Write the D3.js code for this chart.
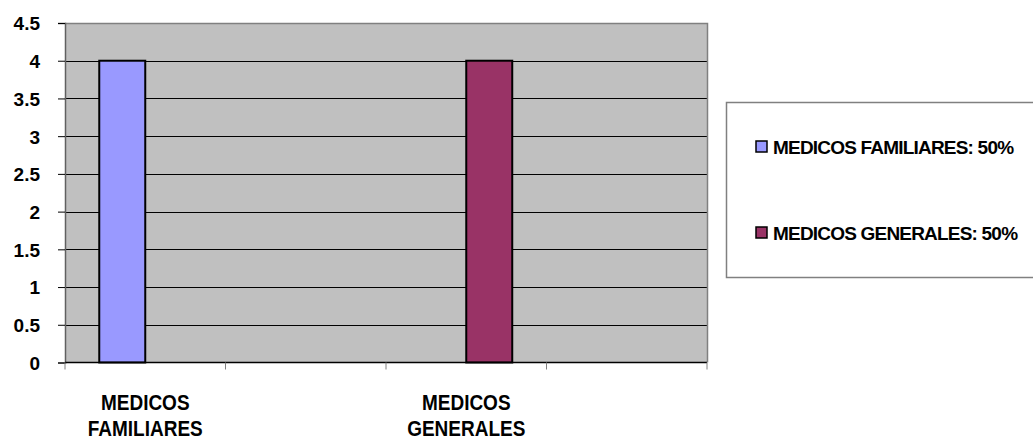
<!DOCTYPE html>
<html>
<head>
<meta charset="utf-8">
<script src="https://cdn.jsdelivr.net/npm/d3@7"></script>
<style>
  html, body { margin: 0; padding: 0; background: #fff; }
  svg { display: block; }
  svg text { font-family: "Liberation Sans", Arial, sans-serif; font-weight: 700; fill: #000; }
</style>
</head>
<body>
<svg id="chart" width="1033" height="439"></svg>
<script>
// Category slots along the x axis (two slots carry no label)
const categories = ["MEDICOS FAMILIARES", "", "MEDICOS GENERALES", ""];
const seriesNames = ["MEDICOS FAMILIARES: 50%", "MEDICOS GENERALES: 50%"];
const familiaresValues = [4, null, null, null];
const generalesValues = [null, null, 4, null];
const seriesColors = ["#9999FF", "#993366"];
const yTicks = [0, 0.5, 1, 1.5, 2, 2.5, 3, 3.5, 4, 4.5];

const seriesValues = [familiaresValues, generalesValues];

const svg = d3.select("#chart");
const plot = { left: 65, right: 707, top: 23, bottom: 362.5 };

const y = d3.scaleLinear().domain([0, 4.5]).range([plot.bottom, plot.top]);
const x = d3.scaleBand().domain(d3.range(categories.length)).range([plot.left, plot.right]).padding(0);
const xSeries = d3.scaleBand().domain(d3.range(seriesNames.length))
  .range([0, x.bandwidth()]).paddingInner(0).paddingOuter(0.745);

// Plot background
svg.append("rect")
  .attr("x", plot.left).attr("y", plot.top)
  .attr("width", plot.right - plot.left).attr("height", plot.bottom - plot.top)
  .attr("fill", "#C0C0C0");

// Horizontal gridlines
svg.append("g")
  .selectAll("line")
  .data(yTicks.filter(t => t > 0 && t < 4.5))
  .join("line")
  .attr("x1", plot.left).attr("x2", plot.right)
  .attr("y1", d => Math.round(y(d)) + 0.5).attr("y2", d => Math.round(y(d)) + 0.5)
  .attr("stroke", "#000").attr("stroke-width", 1);

// Top and right frame of the plot area
svg.append("path")
  .attr("d", `M${plot.left},${plot.top + 0.5}H${plot.right + 0.5}V${plot.bottom}`)
  .attr("fill", "none").attr("stroke", "#808080").attr("stroke-width", 1.5);

// Bars
seriesValues.forEach((vals, s) => {
  svg.append("g")
    .selectAll("rect")
    .data(vals.map((v, i) => ({ i, v })).filter(d => d.v != null))
    .join("rect")
    .attr("x", d => x(d.i) + xSeries(s))
    .attr("y", d => y(d.v))
    .attr("width", xSeries.bandwidth())
    .attr("height", d => y(0) - y(d.v))
    .attr("fill", seriesColors[s])
    .attr("stroke", "#000").attr("stroke-width", 2);
});

// Y axis
const yAxis = d3.axisLeft(y).tickValues(yTicks).tickSize(7)
  .tickFormat(d => d3.format("")(d));
const yg = svg.append("g").attr("transform", `translate(${plot.left},0)`).call(yAxis);
yg.attr("font-family", null).attr("font-size", null);
yg.select(".domain").attr("stroke", "#606060").attr("stroke-width", 1.5);
yg.selectAll(".tick line").attr("stroke", "#000");
yg.selectAll(".tick text").attr("font-size", 19).attr("x", -25).attr("dy", "0.36em");

// X axis: ticks at slot boundaries
const xg = svg.append("g");
xg.append("line")
  .attr("x1", plot.left).attr("x2", plot.right)
  .attr("y1", plot.bottom).attr("y2", plot.bottom)
  .attr("stroke", "#000").attr("stroke-width", 1.5);
const bounds = d3.range(categories.length).map(i => x(i)).concat([x.range()[1]]);
xg.selectAll("line.tk").data(bounds).join("line").attr("class", "tk")
  .attr("x1", d => d).attr("x2", d => d)
  .attr("y1", plot.bottom).attr("y2", plot.bottom + 7)
  .attr("stroke", "#808080").attr("stroke-width", 1);

// Category labels, one word per line, drawn slightly tall
const catLines = [];
categories.forEach((c, i) => {
  if (!c) return;
  c.split(" ").forEach((w, k) => catLines.push({ w, i, k }));
});
xg.selectAll("text.cat")
  .data(catLines)
  .join("text").attr("class", "cat")
  .attr("text-anchor", "middle")
  .attr("font-size", 19)
  .attr("transform", d => `translate(${x(d.i) + x.bandwidth() / 2},${410 + d.k * 26}) scale(1,1.2)`)
  .text(d => d.w);

// Legend
const lg = svg.append("g");
lg.append("rect")
  .attr("x", 726.5).attr("y", 102.5).attr("width", 320).attr("height", 175)
  .attr("fill", "#fff").attr("stroke", "#808080").attr("stroke-width", 1.5);
const legendY = [147, 233];
seriesNames.forEach((name, s) => {
  lg.append("rect")
    .attr("x", 756).attr("y", legendY[s] - 6)
    .attr("width", 11).attr("height", 11)
    .attr("fill", seriesColors[s]).attr("stroke", "#000").attr("stroke-width", 1.5);
  lg.append("text")
    .attr("x", 773).attr("y", legendY[s] + 7)
    .attr("font-size", 19).attr("letter-spacing", -0.8)
    .text(name);
});
</script>
</body>
</html>
